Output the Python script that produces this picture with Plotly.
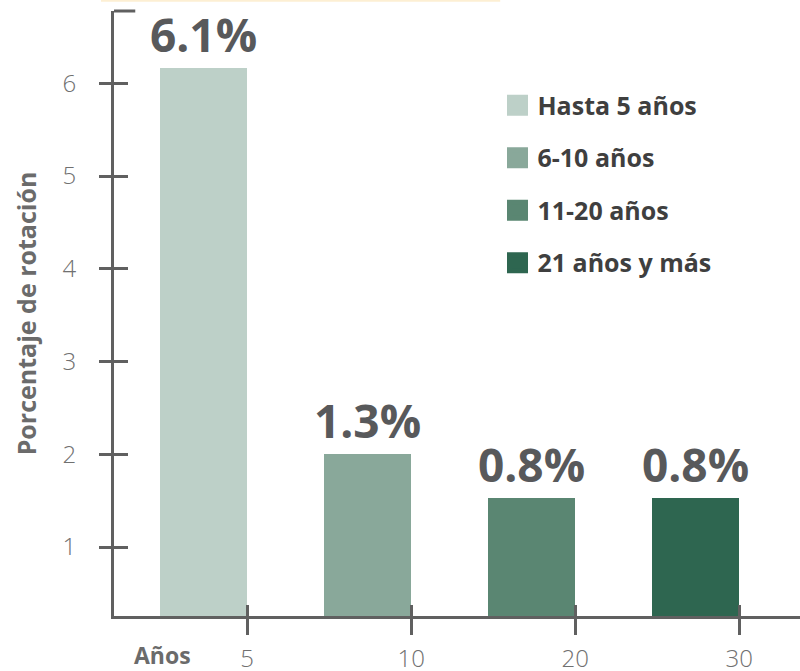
import plotly.graph_objects as go

# data
groups = ["Hasta 5 años", "6-10 años", "11-20 años", "21 años y más"]
tick_pos = [1, 2, 3, 4]
tick_text = ["5", "10", "20", "30"]
bar_heights = [6.17, 2.0, 1.53, 1.53]
bar_labels = ["6.1%", "1.3%", "0.8%", "0.8%"]
colors = ["#bdd0c8", "#89a89a", "#5a8672", "#2e6650"]

AXIS_COLOR = "#606060"
TEXT_GREY = "#6b6b6b"
FONT = "Open Sans"

X_RANGE = [0.189, 4.37]
Y_RANGE = [0.256, 6.78]
BAR_W = 0.53

fig = go.Figure()

# bars, right edge sitting on the tick
fig.add_trace(go.Bar(
    x=tick_pos, y=bar_heights, width=BAR_W, offset=-BAR_W,
    marker=dict(color=colors, line=dict(width=0)),
    text=bar_labels, textposition="outside", constraintext="none",
    textfont=dict(family=FONT, size=46, color="#58595b", weight="bold"),
    cliponaxis=False, showlegend=False, hoverinfo="skip",
))

# legend entries
for i, (name, c) in enumerate(zip(groups, colors)):
    fig.add_trace(go.Scatter(
        x=[None], y=[None], mode="markers", name=name,
        legendgroup=f"g{i}",
        marker=dict(symbol="square", size=16, color=c, line=dict(color=c, width=5)),
    ))

# invisible trace to hold the overlay axes (inside half of the crossing ticks)
fig.add_trace(go.Scatter(x=[None], y=[None], xaxis="x2", yaxis="y2",
                         showlegend=False, hoverinfo="skip"))

tickfont = dict(family=FONT, size=24, color="#707070", weight=300)

fig.update_layout(
    width=800, height=671,
    margin=dict(l=114, r=0, t=11, b=55),
    plot_bgcolor="white", paper_bgcolor="white",
    font=dict(family=FONT),
    xaxis=dict(
        range=X_RANGE, tickvals=tick_pos, ticktext=tick_text,
        showline=True, linecolor=AXIS_COLOR, linewidth=3,
        ticks="outside", ticklen=16, tickwidth=3, tickcolor=AXIS_COLOR,
        tickfont=tickfont, ticklabelstandoff=3, automargin=False,
        showgrid=False, zeroline=False, fixedrange=True,
    ),
    yaxis=dict(
        range=Y_RANGE, tickvals=[1, 2, 3, 4, 5, 6],
        showline=True, linecolor=AXIS_COLOR, linewidth=3,
        ticks="outside", ticklen=12, tickwidth=3, tickcolor=AXIS_COLOR,
        tickfont=tickfont, ticklabelstandoff=18, automargin=False,
        showgrid=False, zeroline=False,
        title=dict(text="Porcentaje de rotación", standoff=19,
                   font=dict(family=FONT, size=25, color=TEXT_GREY, weight="bold")),
    ),
    xaxis2=dict(
        overlaying="x", anchor="y2", range=X_RANGE, tickvals=tick_pos,
        showticklabels=False, ticks="inside", ticklen=11, tickwidth=3,
        tickcolor=AXIS_COLOR, showline=False, showgrid=False, zeroline=False,
    ),
    yaxis2=dict(
        overlaying="y", anchor="x2", range=Y_RANGE, tickvals=[1, 2, 3, 4, 5, 6],
        showticklabels=False, ticks="inside", ticklen=14, tickwidth=3,
        tickcolor=AXIS_COLOR, showline=False, showgrid=False, zeroline=False,
    ),
    legend=dict(
        x=0.559, y=0.882, xanchor="left", yanchor="top",
        font=dict(family=FONT, size=25, color="#3f3f3f", weight="bold"),
        tracegroupgap=17, bgcolor="rgba(0,0,0,0)",
    ),
    bargap=0,
)

# "Años" label at the start of the x axis
fig.add_annotation(
    text="<b>Años</b>", xref="paper", yref="paper", x=0.07, y=-0.064,
    xanchor="center", yanchor="middle", showarrow=False,
    font=dict(family=FONT, size=23, color=TEXT_GREY),
)

# bracket stub at the top of the y axis and the pale rule above the chart
fig.add_shape(type="line", xref="paper", yref="paper", x0=0, x1=0.031, y0=1, y1=1,
              line=dict(color=AXIS_COLOR, width=3))
fig.add_shape(type="line", xref="paper", yref="paper", x0=-0.019, x1=0.563,
              y0=1.017, y1=1.017, line=dict(color="#fdefd3", width=2))

# drop the browser's default page margin so the figure sits at the corner
fig.write_html("out.html", config={"displayModeBar": False},
               post_script="document.body.style.margin='0';")
